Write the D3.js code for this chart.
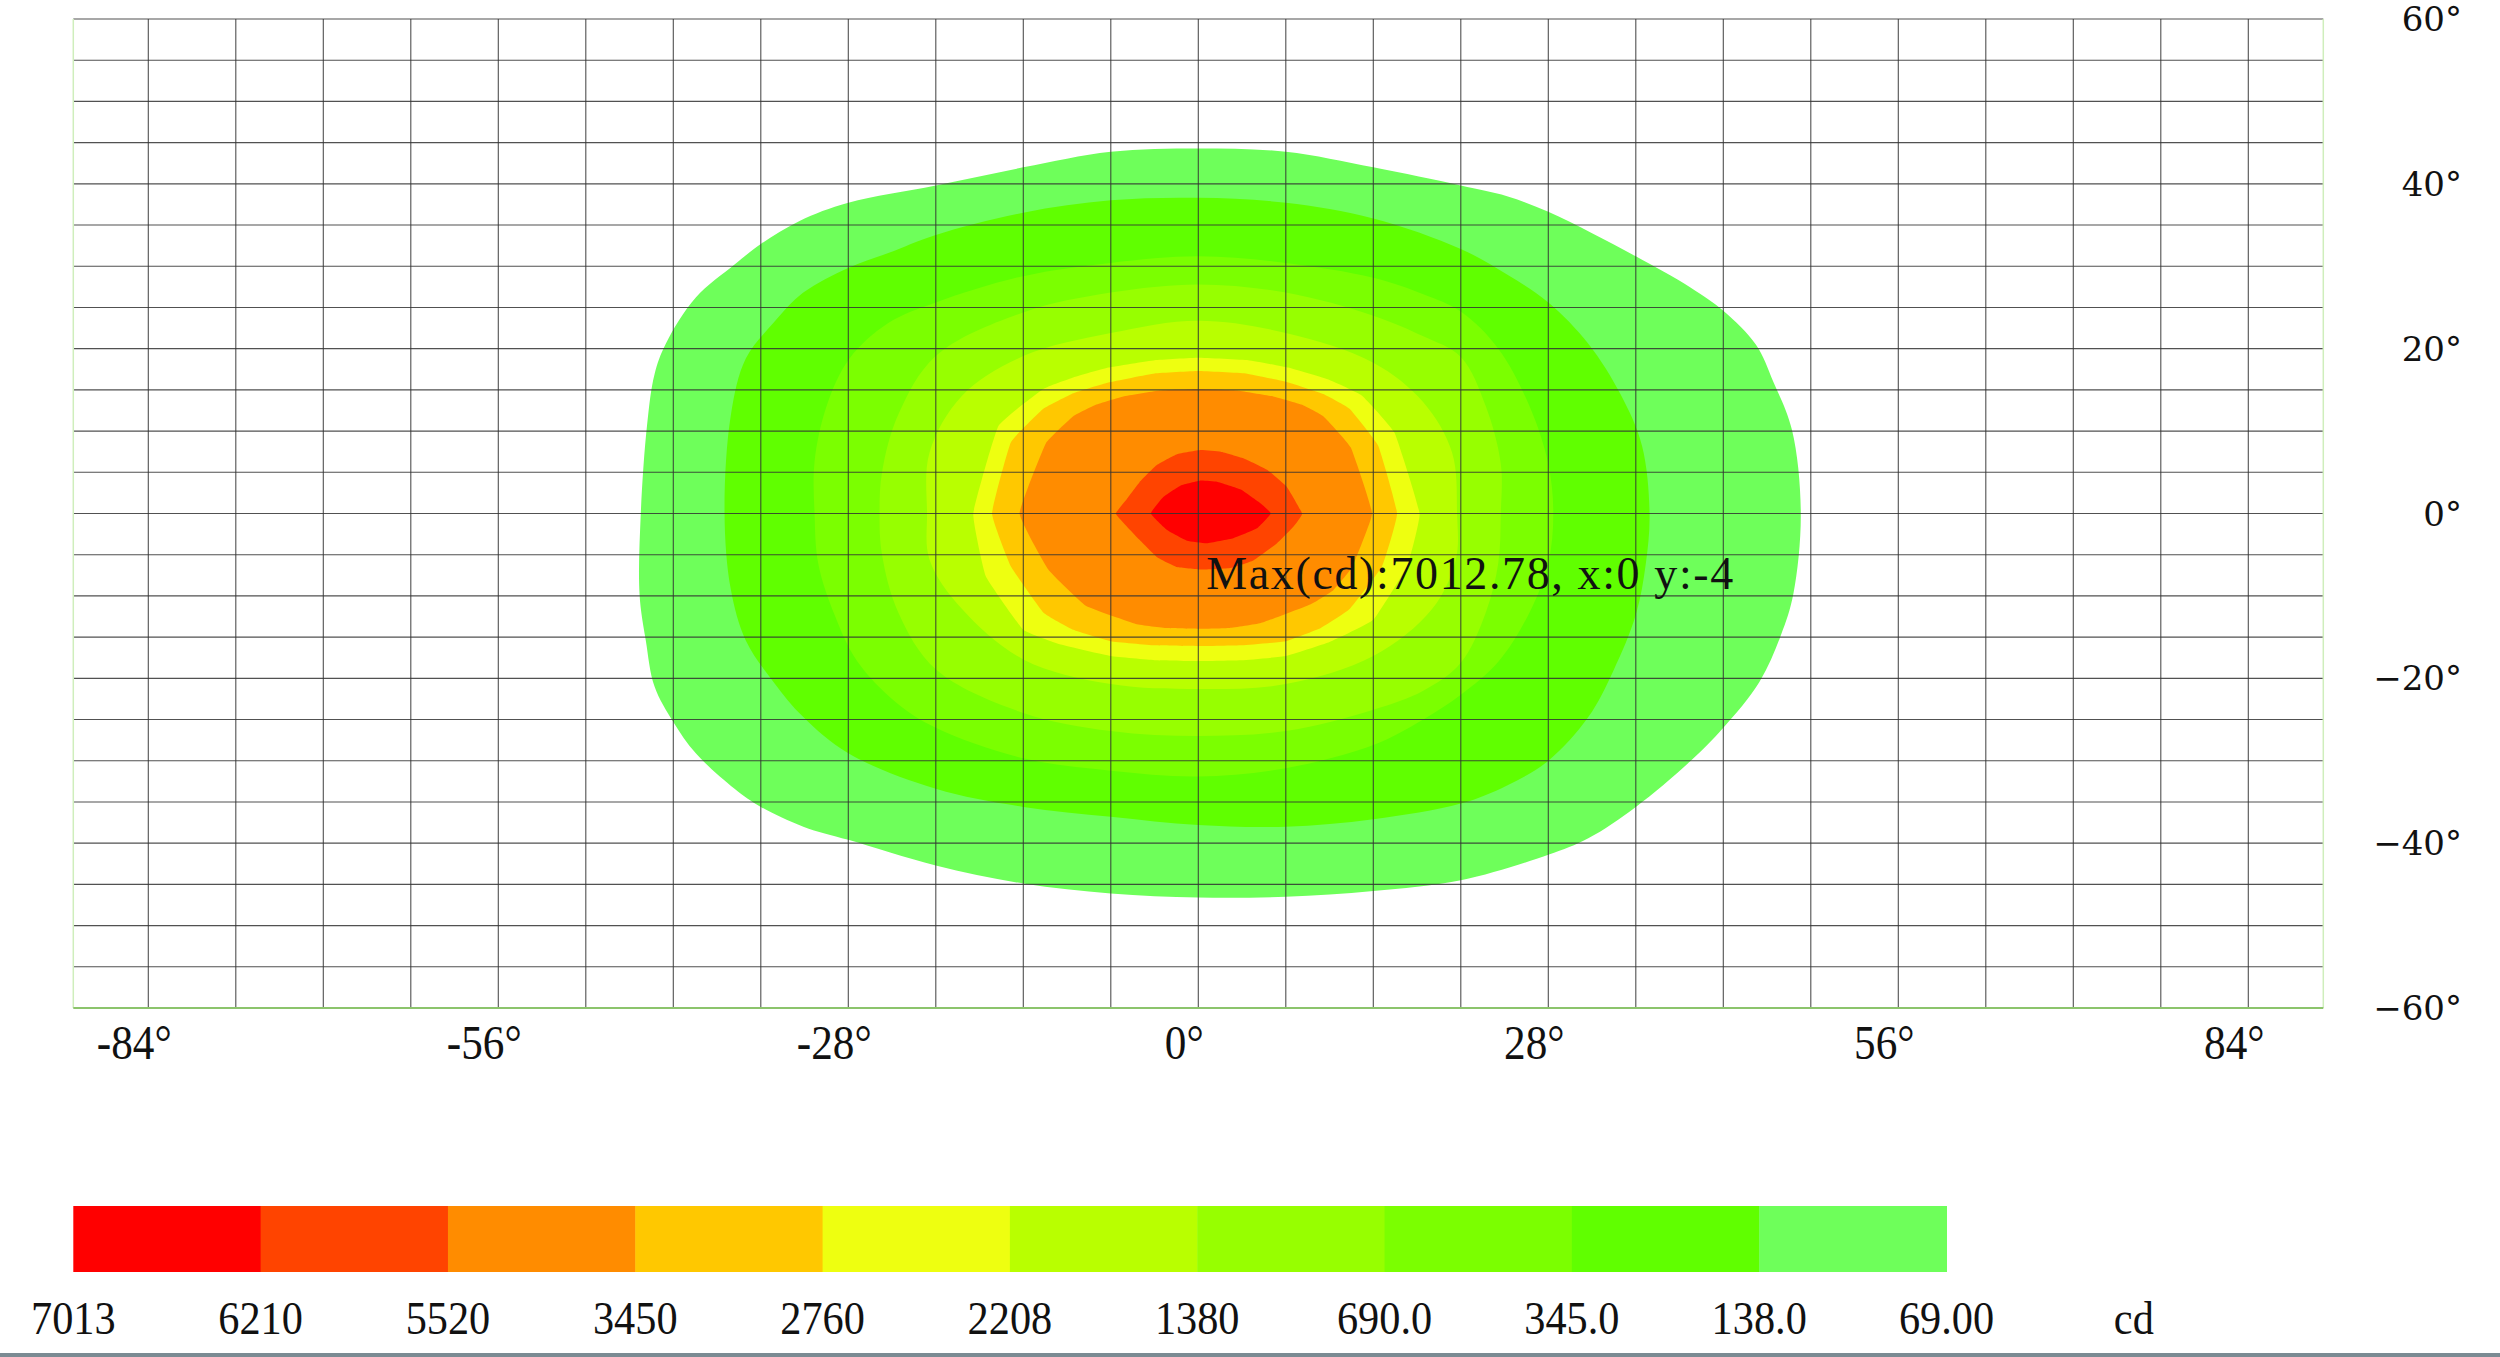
<!DOCTYPE html>
<html><head><meta charset="utf-8">
<script src="https://cdn.jsdelivr.net/npm/d3@7"></script>
<style>html,body{margin:0;padding:0;background:#fff;overflow:hidden}</style>
</head><body>
<svg id="chart" width="2500" height="1357"></svg>
<script>
// ---------- data ----------
const xTickValues = [-84, -56, -28, 0, 28, 56, 84];
const yTickValues = [60, 40, 20, 0, -20, -40, -60];
const xGridValues = [-84,-77,-70,-63,-56,-49,-42,-35,-28,-21,-14,-7,0,7,14,21,28,35,42,49,56,63,70,77,84];
const yGridValues = [-55,-50,-45,-40,-35,-30,-25,-20,-15,-10,-5,0,5,10,15,20,25,30,35,40,45,50,55,60];
const legendLabels = ["7013","6210","5520","3450","2760","2208","1380","690.0","345.0","138.0","69.00"];
const legendUnit = "cd";
const bandColors = ["#ff0000","#ff4400","#ff8c00","#ffc800","#eeff10","#b9ff00","#97ff00","#7bff00","#60ff00","#6eff5a"];
const maxPoint = {x: 0, y: -4, value: 7012.78};

// iso-candela boundaries, [horizontal deg, vertical deg]
const contour69 = [[0,44.3],[7,43.9],[14,42],[21,39.8],[24.7,38.5],[28,36.6],[31.5,34],[35,31.2],[39.4,27.4],[42,24.6],[44.6,20.5],[46,16],[47.5,10.1],[48.2,0],[47.6,-9.8],[46.6,-14.8],[44.9,-20.4],[42,-26],[39.4,-30],[35,-35.6],[31.2,-39.4],[28,-41.4],[21,-44.5],[14,-45.8],[7,-46.5],[0,-46.6],
  [-7,-46.1],[-14,-44.9],[-21,-42.7],[-28,-39.6],[-31.6,-38],[-35,-35.6],[-37.1,-33.4],[-40.2,-29.1],[-42,-25.3],[-43.5,-21],[-44.2,-15.4],[-44.7,-9.8],[-44.6,0],[-44.1,10.7],[-43.5,16.9],[-42.6,20.6],[-40.2,26.2],[-37.1,30.2],[-35,32.7],[-31.9,35.5],[-28,37.7],[-21,39.8],[-14,42],[-7,43.9]];
const contour138 = [[0,38.3],[7,37.7],[14,35.8],[21,32.1],[24.7,29],[28,25.6],[31.2,20.6],[33.8,14.4],[35.5,8.2],[36.1,0],[35.8,-6.1],[35,-12.3],[33.2,-19.1],[31.2,-24.7],[28,-30],[24.7,-33],[21,-35.2],[14,-37.1],[7,-38],[0,-37.8],
  [-7,-36.8],[-14,-35.6],[-21,-33.4],[-28,-29.1],[-31.6,-24.7],[-34,-20.4],[-36.2,-15.4],[-37.4,-9.2],[-37.9,0],[-37.4,11.9],[-36.2,18.8],[-34,23.1],[-31.6,26.8],[-28,29.8],[-24.8,31.6],[-21,33.8],[-14,36.5],[-7,38]];
const contour345 = [[0,31.2],[7,30.4],[14,28.6],[18,26.6],[21,24.5],[24,20],[26.5,13],[28,6],[28.4,0],[28,-6],[26.5,-12],[24,-18],[21,-22],[18,-25],[14,-28.1],[7,-30.9],[0,-31.9],
  [-7,-31.2],[-14,-29.7],[-21,-26],[-24.2,-22.9],[-27.3,-17.9],[-29.1,-12.3],[-30.4,-6.1],[-30.7,0],[-30.7,6.3],[-29.7,13.2],[-27.9,18.8],[-24.8,23.1],[-21,25.6],[-14,28.8],[-7,30.4]];
const contour690 = [[0,27.8],[7,26.8],[14,24],[18,21.5],[21,19],[23,13],[24.2,6],[24.2,0],[24,-6],[23,-12],[21,-18.1],[18,-21.5],[14,-23.8],[7,-26.4],[0,-27],
  [-7,-26.4],[-14,-24.2],[-21,-18.9],[-24,-12],[-25.3,-5],[-25.5,0],[-25.3,5],[-24,12],[-21,19.1],[-14,24.4],[-7,26.8]];
const contour1380 = [[0,23.4],[7,21.9],[14,18.3],[18,13.5],[20.3,7.4],[20.7,0],[20.6,-5.6],[18.7,-11.6],[14,-17.3],[7,-20.7],[0,-21.3],
  [-7,-20.7],[-14,-17.7],[-18.9,-11.6],[-21.5,-5.6],[-21.7,0],[-21.5,7.4],[-18.9,14.3],[-14,19.1],[-7,21.9]];
const contour2208 = [[0,18.9],[4,18.6],[7.2,17.7],[10.5,16.2],[13.1,14.3],[15.7,9.8],[17.7,0],[16.7,-6.4],[14,-12.9],[10.5,-15.6],[7,-17.3],[3.5,-17.8],[0,-17.9],
  [-3.5,-17.8],[-7,-17.3],[-11,-15.9],[-14,-14.1],[-17,-7.6],[-18,0],[-16,10.6],[-12.4,15.1],[-10,16.5],[-7.2,17.7],[-3.5,18.6]];
const contour2760 = [[0,17.3],[3.8,17],[7.2,15.9],[10,14.5],[12.1,12.7],[14.4,8.2],[15.9,0],[14.7,-6.4],[12.1,-11.6],[9.8,-13.9],[7,-15.5],[3.5,-16],[0,-16.1],
  [-3.5,-16],[-7,-15.5],[-10,-14.1],[-12.4,-12],[-15,-6.4],[-16.5,0],[-15,8.6],[-12.4,12.7],[-10,14.6],[-7.2,15.9],[-3.5,17]];
const contour3450 = [[0,15.1],[3.2,14.9],[6,14.2],[8.3,13.2],[10,11.8],[12.2,8],[13.9,0],[12.3,-6.5],[10.8,-9.3],[9,-11],[5,-13.3],[2.5,-13.9],[0,-14],
  [-2.5,-13.9],[-5,-13.4],[-9,-11.2],[-12,-6.8],[-14.3,0],[-12.2,8.5],[-10,11.8],[-8.2,13.2],[-6,14.2],[-3.2,14.9]];
const contour5520 = [[0.2,7.7],[1.8,7.5],[3.6,6.7],[5.5,5.3],[7.1,3.2],[8.3,0],[7.6,-1.6],[6.3,-3.6],[4.4,-5.7],[2.6,-6.6],[0.2,-6.8],
  [-1.7,-6.5],[-3.3,-5.3],[-4.7,-3.2],[-5.7,-1.6],[-6.6,0],[-5.7,1.8],[-4.7,3.8],[-3.3,5.9],[-1.7,7.2]];
const contour6210 = [[0.2,4],[1.5,3.85],[3.4,2.9],[5,1.2],[5.8,0],[4.7,-1.8],[2.8,-3],[0.7,-3.6],[-0.9,-3.3],[-2.5,-2],[-3.8,0],[-2.8,2],[-1.4,3.4]];

// outer to inner
const contourLevels = [contour69, contour138, contour345, contour690, contour1380, contour2208, contour2760, contour3450, contour5520, contour6210];

// ---------- layout ----------
const svg = d3.select("#chart");
const x = d3.scaleLinear().domain([-90, 90]).range([73.3, 2323.3]);
const y = d3.scaleLinear().domain([-60, 60]).range([1008, 19]);

const smoothLine = d3.line().x(d => x(d[0])).y(d => y(d[1]))
  .curve(d3.curveCatmullRomClosed.alpha(0.5));
const tightLine = d3.line().x(d => x(d[0])).y(d => y(d[1]))
  .curve(d3.curveCardinalClosed.tension(0.7));

const fills = bandColors.slice().reverse(); // outermost first
svg.append("g").selectAll("path").data(contourLevels).join("path")
  .attr("d", (d, i) => i >= 5 ? tightLine(d) : smoothLine(d))
  .attr("fill", (d, i) => fills[i])
  .attr("stroke", "none");

// grid
const grid = svg.append("g");
grid.selectAll("line.v").data(xGridValues).join("line")
  .attr("x1", d => x(d)).attr("x2", d => x(d))
  .attr("y1", y(60)).attr("y2", y(-60))
  .attr("stroke", "#333").attr("stroke-width", 1.1).attr("opacity", 0.85);
grid.selectAll("line.h").data(yGridValues).join("line")
  .attr("x1", x(-90)).attr("x2", x(90))
  .attr("y1", d => y(d)).attr("y2", d => y(d))
  .attr("stroke", "#333").attr("stroke-width", 1.1).attr("opacity", 0.85);
// frame
svg.append("line").attr("x1", x(-90)).attr("x2", x(-90)).attr("y1", y(60)).attr("y2", y(-60))
  .attr("stroke", "#cfeebc").attr("stroke-width", 1.5);
svg.append("line").attr("x1", x(90)).attr("x2", x(90)).attr("y1", y(60)).attr("y2", y(-60))
  .attr("stroke", "#cfeebc").attr("stroke-width", 1.5);
svg.append("line").attr("x1", x(-90)).attr("x2", x(90)).attr("y1", y(-60)).attr("y2", y(-60))
  .attr("stroke", "#8cc46c").attr("stroke-width", 2);

// x tick labels (condensed serif)
svg.append("g").selectAll("text").data(xTickValues).join("text")
  .attr("transform", d => `translate(${x(d) - 14},1059) scale(0.9,1)`)
  .attr("text-anchor", "middle")
  .attr("font-family", "Liberation Serif, serif").attr("font-size", 48).attr("fill", "#111")
  .text(d => `${d}°`);

// y tick labels (right side)
svg.append("g").selectAll("text").data(yTickValues).join("text")
  .attr("x", 2462).attr("y", d => y(d) + 12)
  .attr("text-anchor", "end")
  .attr("font-family", "DejaVu Serif, serif").attr("font-size", 34).attr("fill", "#111")
  .text(d => `${d < 0 ? "\u2212" + Math.abs(d) : d}°`);

// max annotation
svg.append("text")
  .attr("x", x(maxPoint.x) + 8).attr("y", y(maxPoint.y) + 43)
  .attr("font-family", "Liberation Serif, serif").attr("font-size", 46).attr("fill", "#111")
  .attr("textLength", 527).attr("lengthAdjust", "spacing")
  .text(`Max(cd):${maxPoint.value}, x:${maxPoint.x} y:${maxPoint.y}`);

// legend
const lx = d3.scaleLinear().domain([0, bandColors.length]).range([73.3, 1946.5]);
svg.append("g").selectAll("rect").data(bandColors).join("rect")
  .attr("x", (d, i) => lx(i)).attr("width", (d, i) => lx(i + 1) - lx(i) + 0.5)
  .attr("y", 1206).attr("height", 66)
  .attr("fill", d => d);
svg.append("g").selectAll("text").data(legendLabels.concat([legendUnit])).join("text")
  .attr("transform", (d, i) => `translate(${lx(i)},1334) scale(0.92,1)`)
  .attr("text-anchor", "middle")
  .attr("font-family", "Liberation Serif, serif").attr("font-size", 46).attr("fill", "#111")
  .text(d => d);

// bottom rule
svg.append("rect").attr("x", 0).attr("y", 1353).attr("width", 2500).attr("height", 4).attr("fill", "#7b8b93");
</script>
</body></html>
